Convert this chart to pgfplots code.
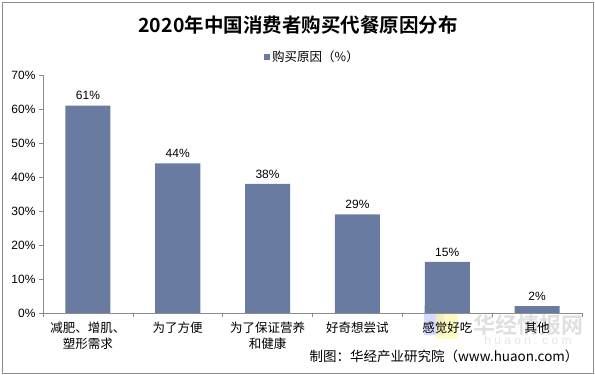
\documentclass[border=0pt]{standalone}
\usepackage{pgfplots}
\pgfplotsset{compat=1.18}
\usepackage{fontspec}
\setmainfont{Liberation Sans}
\newfontfamily\cjk{Noto Sans CJK SC}
\newfontfamily\cjkb{Noto Sans CJK SC Bold}
\definecolor{barc}{HTML}{6A7BA2}
\definecolor{axc}{HTML}{8C8C8C}
\begin{document}
\begin{tikzpicture}[x=1pt,y=1pt]
\useasboundingbox (0,0) rectangle (595,375);
\draw[color=axc,line width=0.8pt] (2,2) rectangle (593,373);
\node[font=\cjkb\fontsize{19.5}{22}\selectfont] at (298,350) {2020年中国消费者购买代餐原因分布};
\fill[blue!30!white, opacity=0.5] (424,40) rectangle (444,70);
\fill[yellow!40!white, opacity=0.6] (436,36) rectangle (458,64);
\node[font=\cjkb\fontsize{22}{24}\selectfont,text=gray!25] at (528,50) {华经情报网};
\node[font=\fontsize{12}{13}\selectfont,text=gray!20] at (528,35) {h u a o n . c o m};
\begin{axis}[
  at={(43pt,62pt)}, anchor=south west,
  scale only axis, width=539pt, height=238pt,
  xmin=-0.5, xmax=5.5, ymin=0, ymax=70,
  axis x line*=bottom, axis y line*=left,
  axis line style={color=axc, line width=0.6pt},
  ytick={0,10,...,70},
  yticklabel={\pgfmathprintnumber{\tick}\%},
  /pgf/number format/assume math mode=true,
  y tick label style={font=\fontsize{12}{14}\selectfont},
  tick align=outside, major tick length=4pt,
  tick style={color=axc, line width=0.6pt},
  xtick={0,...,5},
  x tick style={draw=none},
  minor xtick={-0.5,0.5,...,5.5},
  minor x tick style={draw=axc, line width=0.6pt},
  minor tick length=4pt,
  xticklabels={{减肥、增肌、\\塑形需求},{为了方便},{为了保证营养\\和健康},{好奇想尝试},{感觉好吃},{其他}},
  x tick label style={font=\cjk\fontsize{12.5}{16}\selectfont, align=center, yshift=-1pt},
  ybar, bar width=45pt,
  nodes near coords={\pgfmathprintnumber{\pgfplotspointmeta}\%},
  nodes near coords style={font=\fontsize{12}{14}\selectfont, text=black, yshift=2pt},
  legend style={at={(0.5,1.075)}, anchor=center, draw=none, fill=none,
    font=\cjk\fontsize{12.5}{14}\selectfont, inner sep=0pt},
  legend image code/.code={\fill[barc] (0pt,-3pt) rectangle (6pt,3pt);},
  clip=false,
]
\addplot[fill=barc, draw=none] coordinates {(0,61) (1,44) (2,38) (3,29) (4,15) (5,2)};
\addlegendentry{购买原因（\%）}
\end{axis}
\node[font=\cjk\fontsize{13.5}{15}\selectfont, anchor=east] at (582,19) {制图：华经产业研究院（www.huaon.com）};
\end{tikzpicture}
\end{document}
